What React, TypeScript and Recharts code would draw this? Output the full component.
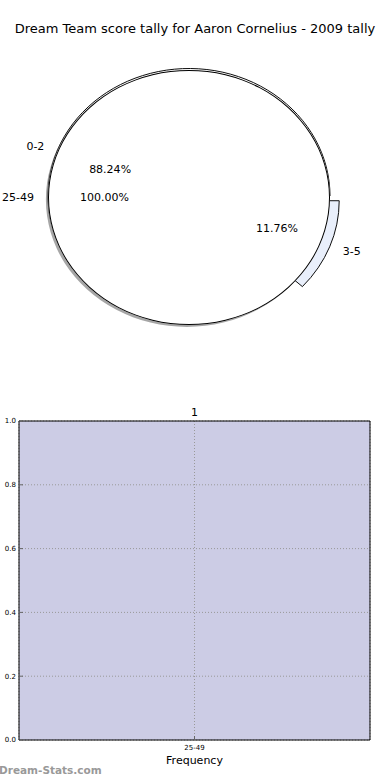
import React from 'react';
import { PieChart, Pie, Cell, BarChart, Bar, XAxis, YAxis, CartesianGrid, LabelList } from 'recharts';

// ---- data ----
const titleText = 'Dream Team score tally for Aaron Cornelius - 2009 tally';
const pieCategories = ['0-2', '3-5'];
const pieValues = [15, 2];
const pieColors = ['#FFFFFF', '#E9EFFB'];
const pieExplode = [0, 0.07];
const pie2Categories = ['25-49'];
const pie2Values = [1];
const pie2Colors = ['#FFFFFF'];
const barCategories = ['25-49'];
const barValues = [1];
const yTicks = [0, 0.2, 0.4, 0.6, 0.8, 1.0];
const xLabel = 'Frequency';
const watermark = 'Dream-Stats.com';

// ---- layout ----
const FONT = '"DejaVu Sans", Verdana, sans-serif';
const CX = 189;
const CY = 197.5;
const RX = 141;
const RY = 127.5;
const SY = RY / RX;
const SHADOW = 0.015;
const PIE1_LIFT = 1.5;

const pieData = pieCategories.map((name, i) => ({ name, value: pieValues[i] }));
const pie2Data = pie2Categories.map((name, i) => ({ name, value: pie2Values[i] }));
const barData = barCategories.map((name, i) => ({ name, value: barValues[i] }));

// explode offset for each slice, from its mid angle
const pieTotal = pieValues.reduce((a, b) => a + b, 0);
const explodeOffsets = pieValues.map((v, i) => {
  const before = pieValues.slice(0, i).reduce((a, b) => a + b, 0);
  const mid = ((before + v / 2) / pieTotal) * 2 * Math.PI;
  const e = pieExplode[i];
  return { dx: e * RX * Math.cos(mid), dy: -e * RY * Math.sin(mid) };
});
const ex = explodeOffsets[1];

const makeLabel = (explode: number[]) => (p: any) => {
  const { midAngle, index, name, percent } = p;
  const rad = (midAngle * Math.PI) / 180;
  const c = Math.cos(rad);
  const s = Math.sin(rad);
  const e = explode[index] || 0;
  const ox = CX + e * RX * c;
  const oy = CY - e * RY * s;
  const lx = ox + 1.1 * RX * c;
  const ly = oy - 1.1 * RY * s;
  const px = ox + 0.6 * RX * c;
  const py = oy - 0.6 * RY * s;
  return (
    <g key={`lbl-${name}`}>
      <text x={lx} y={ly} textAnchor={c >= 0 ? 'start' : 'end'} dominantBaseline="central" fontSize={11} fontFamily={FONT} fill="#000">
        {name}
      </text>
      <text x={px} y={py} textAnchor="middle" dominantBaseline="central" fontSize={11} fontFamily={FONT} fill="#000">
        {(percent * 100).toFixed(2)}%
      </text>
    </g>
  );
};

const ellipseCss = (cls: string, ox: number, oy: number) =>
  `.${cls} .recharts-sector{transform-box:view-box;transform-origin:${ox}px ${oy}px;transform:scale(1,${SY});}`;

const css =
  ellipseCss('pa1', CX, CY - PIE1_LIFT) +
  ellipseCss('pa2', CX + ex.dx, CY + ex.dy) +
  ellipseCss('psh', CX - SHADOW * RX, CY + SHADOW * RY) +
  ellipseCss('pb', CX, CY) +
  ellipseCss('pbr', CX, CY) +
  ellipseCss('plab', CX, CY);

export default function App() {
  return (
    <div style={{ position: 'absolute', left: 0, top: 0, width: 390, height: 780, background: '#fff', fontFamily: FONT, overflow: 'hidden' }}>
      <style>{css}</style>
      <div style={{ position: 'absolute', left: 0, top: 21, width: 390, textAlign: 'center', fontSize: 13, color: '#000', whiteSpace: 'nowrap' }}>
        {titleText}
      </div>
      <div style={{ position: 'absolute', left: 0, top: 0 }}>
        <PieChart width={390} height={390} margin={{ top: 0, right: 0, bottom: 0, left: 0 }}>
          <Pie className="pa1" data={pieData} dataKey="value" nameKey="name" cx={CX} cy={CY - PIE1_LIFT} outerRadius={RX} startAngle={0} endAngle={360} isAnimationActive={false} labelLine={false} label={false}>
            {pieData.map((d, i) => (
              <Cell key={d.name} fill={i === 0 ? pieColors[i] : 'none'} stroke={i === 0 ? '#000' : 'none'} strokeWidth={1} />
            ))}
          </Pie>
          <Pie className="pa2" data={pieData} dataKey="value" nameKey="name" cx={CX + ex.dx} cy={CY + ex.dy} outerRadius={RX} startAngle={0} endAngle={360} isAnimationActive={false} labelLine={false} label={false}>
            {pieData.map((d, i) => (
              <Cell key={d.name} fill={i === 1 ? pieColors[i] : 'none'} stroke={i === 1 ? '#000' : 'none'} strokeWidth={1} />
            ))}
          </Pie>
          <Pie className="psh" data={pie2Data} dataKey="value" nameKey="name" cx={CX - SHADOW * RX} cy={CY + SHADOW * RY} outerRadius={RX} startAngle={0} endAngle={360} isAnimationActive={false} labelLine={false} label={false}>
            {pie2Data.map((d) => (
              <Cell key={d.name} fill="#4d4d4d" fillOpacity={0.5} stroke="none" />
            ))}
          </Pie>
          <Pie className="pb" data={pie2Data} dataKey="value" nameKey="name" cx={CX} cy={CY} outerRadius={RX} startAngle={0} endAngle={360} isAnimationActive={false} labelLine={false} label={false}>
            {pie2Data.map((d, i) => (
              <Cell key={d.name} fill={pie2Colors[i]} stroke="none" />
            ))}
          </Pie>
          <Pie className="pbr" data={pie2Data} dataKey="value" nameKey="name" cx={CX} cy={CY} innerRadius={RX - 1} outerRadius={RX} startAngle={0} endAngle={360} isAnimationActive={false} labelLine={false} label={makeLabel([0])}>
            {pie2Data.map((d) => (
              <Cell key={d.name} fill="#000" stroke="none" />
            ))}
          </Pie>
          <Pie className="plab" data={pieData} dataKey="value" nameKey="name" cx={CX} cy={CY} outerRadius={RX} startAngle={0} endAngle={360} isAnimationActive={false} labelLine={false} label={makeLabel(pieExplode)}>
            {pieData.map((d) => (
              <Cell key={d.name} fill="none" stroke="none" />
            ))}
          </Pie>
        </PieChart>
      </div>
      <div style={{ position: 'absolute', left: 0, top: 400 }}>
        <BarChart width={390} height={380} data={barData} margin={{ top: 20, right: 19, left: 0, bottom: 0 }} barCategoryGap={0}>
          <Bar dataKey="value" fill="#CCCCE5" isAnimationActive={false}>
            <LabelList dataKey="value" position="top" offset={5} fontSize={11} fill="#000" fontFamily={FONT} />
          </Bar>
          <CartesianGrid stroke="#999" strokeDasharray="1 2" horizontal vertical zIndex={350} />
          <XAxis
            dataKey="name"
            height={40}
            interval={0}
            tickSize={-4}
            tickMargin={9}
            tick={{ fontSize: 7, fill: '#000', fontFamily: FONT }}
            tickLine={{ stroke: '#666' }}
            axisLine={{ stroke: '#000' }}
            label={{ value: xLabel, position: 'insideBottom', offset: 16, fontSize: 11, fill: '#000', fontFamily: FONT }}
          />
          <XAxis xAxisId="top" orientation="top" dataKey="name" height={1} tickSize={-4} tick={false} tickLine={{ stroke: '#666' }} axisLine={{ stroke: '#000' }} />
          <YAxis
            domain={[0, 1]}
            ticks={yTicks}
            width={19}
            tickSize={-4}
            tickMargin={7}
            tickFormatter={(v: number) => v.toFixed(1)}
            tick={{ fontSize: 7, fill: '#000', fontFamily: FONT }}
            tickLine={{ stroke: '#666' }}
            axisLine={{ stroke: '#000' }}
          />
          <YAxis yAxisId="right" orientation="right" domain={[0, 1]} ticks={yTicks} width={1} tickSize={-4} tick={false} tickLine={{ stroke: '#666' }} axisLine={{ stroke: '#000' }} />
        </BarChart>
      </div>
      <div style={{ position: 'absolute', left: -1, top: 764, fontSize: 10.5, fontWeight: 'bold', color: '#999', whiteSpace: 'nowrap' }}>
        {watermark}
      </div>
    </div>
  );
}
